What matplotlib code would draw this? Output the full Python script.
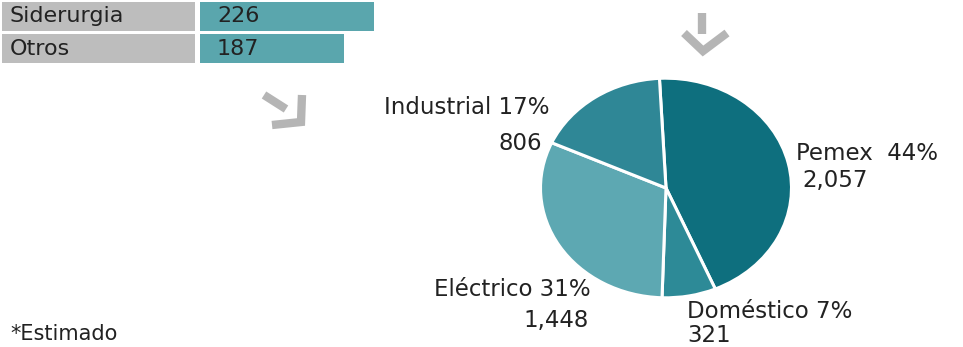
import matplotlib.pyplot as plt
from matplotlib.lines import Line2D

# data
bar_labels = ["Siderurgia", "Otros"]
bar_values = [226, 187]

pie_labels = ["Pemex", "Doméstico", "Eléctrico", "Industrial"]
pie_values = [2057, 321, 1448, 806]
pie_pcts = [44, 7, 31, 17]
pie_colors = ["#0e6f7e", "#2d8a97", "#5da8b2", "#2f8796"]

W, H = 963, 347
fig = plt.figure(figsize=(W / 100, H / 100), dpi=100)


def fx(x):
    return x / W


def fy(y):
    return 1 - y / H


txt = dict(family="DejaVu Sans", color="#222222")

# gray label boxes
ax_lab = fig.add_axes([fx(2), fy(65), fx(193), 65 / H])
ax_lab.barh([0, 1], [1, 1], height=0.88, color="#bdbdbd")
for i, lab in enumerate(bar_labels):
    ax_lab.text(0.04, i, lab, va="center", ha="left", fontsize=16, **txt)
ax_lab.set_xlim(0, 1)
ax_lab.set_ylim(1.5, -0.5)
ax_lab.axis("off")

# bars
ax_bar = fig.add_axes([fx(200), fy(65), fx(200), 65 / H])
ax_bar.barh([0, 1], bar_values, height=0.88, color="#5aa6ad")
for i, v in enumerate(bar_values):
    ax_bar.text(22, i, str(v), va="center", ha="left", fontsize=16, **txt)
ax_bar.set_xlim(0, 226 * 200 / 174)
ax_bar.set_ylim(1.5, -0.5)
ax_bar.axis("off")

# pie (stretched into an ellipse like the original)
ax_pie = fig.add_axes([fx(538), fy(300), fx(256), 224 / H])
ax_pie.pie(pie_values, colors=pie_colors, startangle=93, counterclock=False,
           wedgeprops=dict(edgecolor="white", linewidth=2.2))
ax_pie.set_aspect("auto")
ax_pie.set_xlim(-1.02, 1.02)
ax_pie.set_ylim(-1.02, 1.02)
ax_pie.axis("off")

# pie labels
fs = 16.5
fig.text(fx(796), fy(154), f"{pie_labels[0]}  {pie_pcts[0]}%", ha="left", va="center", fontsize=fs, **txt)
fig.text(fx(802), fy(180), f"{pie_values[0]:,}", ha="left", va="center", fontsize=fs, **txt)
fig.text(fx(687), fy(311), f"{pie_labels[1]} {pie_pcts[1]}%", ha="left", va="center", fontsize=fs, **txt)
fig.text(fx(687), fy(336), f"{pie_values[1]:,}", ha="left", va="center", fontsize=fs, **txt)
fig.text(fx(591), fy(290), f"{pie_labels[2]} {pie_pcts[2]}%", ha="right", va="center", fontsize=fs, **txt)
fig.text(fx(589), fy(320), f"{pie_values[2]:,}", ha="right", va="center", fontsize=fs, **txt)
fig.text(fx(549), fy(108), f"{pie_labels[3]} {pie_pcts[3]}%", ha="right", va="center", fontsize=fs, **txt)
fig.text(fx(542), fy(143), f"{pie_values[3]:,}", ha="right", va="center", fontsize=fs, **txt)

fig.text(fx(10), fy(334), "*Estimado", ha="left", va="center", fontsize=15, **txt)

# gray arrows
gray = "#b5b5b5"
arrows = [
    ([fx(702), fx(702)], [fy(13), fy(34)]),
    ([fx(684), fx(703), fx(727)], [fy(33), fy(51), fy(33)]),
    ([fx(264), fx(286)], [fy(95), fy(109)]),
    ([fx(302), fx(301), fx(272)], [fy(95), fy(122), fy(125)]),
]
for xs, ys in arrows:
    fig.add_artist(Line2D(xs, ys, color=gray, linewidth=6, solid_capstyle="butt",
                          solid_joinstyle="miter"))

fig.savefig("out.png", dpi=100, facecolor="white")
